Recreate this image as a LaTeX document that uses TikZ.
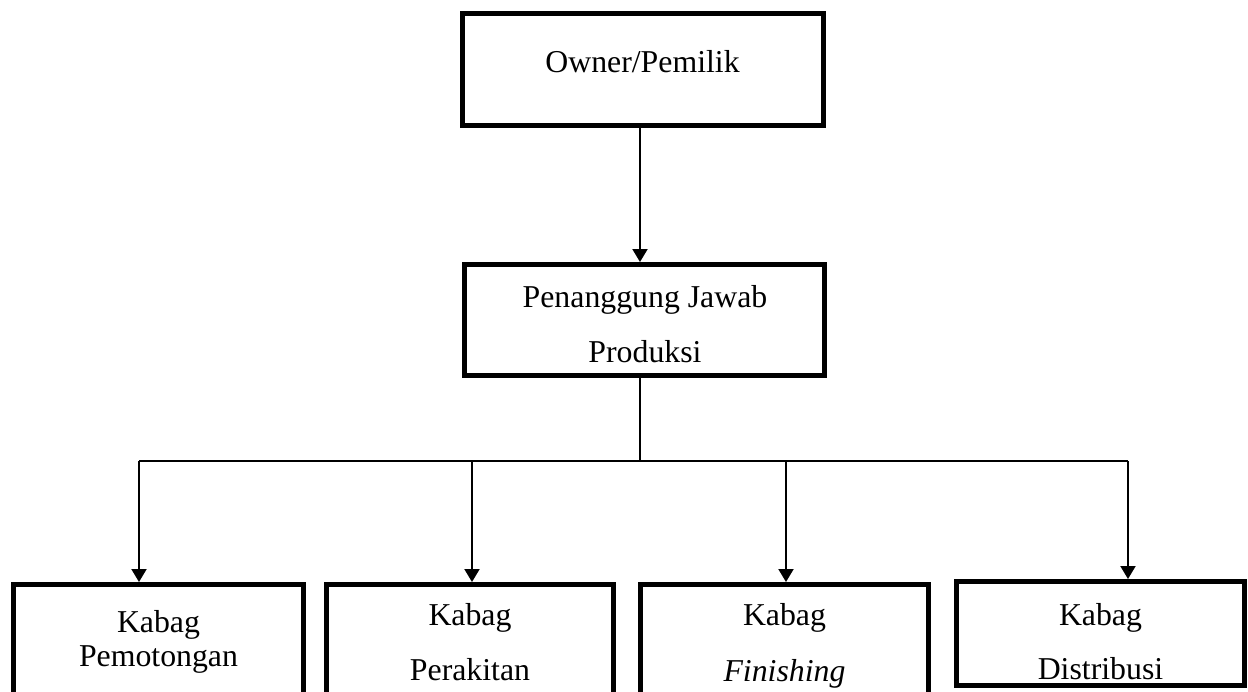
\documentclass[tikz,border=0pt]{standalone}
\usepackage{fontspec}
\setmainfont{Liberation Serif}
\usetikzlibrary{arrows.meta}
\begin{document}
\begin{tikzpicture}[x=1pt,y=-1pt,
  box/.style={draw, line width=5pt, rectangle, inner sep=0pt, outer sep=2.5pt},
  lbl/.style={font=\fontsize{31.8}{38}\selectfont, inner sep=0pt, anchor=base},
  conn/.style={line width=2pt},
  arr/.style={conn, -{Triangle[length=13pt,width=15pt]}}]
\useasboundingbox (0,0) rectangle (1248,691);
\clip (0,0) rectangle (1248,691);
% boxes
\node[box, minimum width=361pt, minimum height=112pt] (owner) at (643,69.5) {};
\node[box, minimum width=360pt, minimum height=111pt] (pj) at (644.5,320) {};
\node[box, minimum width=290pt, minimum height=140pt] (b1) at (158.5,654.5) {};
\node[box, minimum width=287pt, minimum height=140pt] (b2) at (470,654.5) {};
\node[box, minimum width=288pt, minimum height=140pt] (b3) at (784.5,654.5) {};
\node[box, minimum width=288pt, minimum height=104pt] (b4) at (1100.5,633.5) {};
% texts
\node[lbl] (ownert) at (642.5,72) {Owner/Pemilik};
\node[lbl] (pjt1) at (645,307) {Penanggung Jawab};
\node[lbl] (pjt2) at (645,362) {Produksi};
\node[lbl] (b1t1) at (158.5,632) {Kabag};
\node[lbl] (b1t2) at (158.5,666) {Pemotongan};
\node[lbl] (b2t1) at (470,625) {Kabag};
\node[lbl] (b2t2) at (470,680) {Perakitan};
\node[lbl] (b3t1) at (784.5,625) {Kabag};
\node[lbl] (b3t2) at (784.5,681) {\itshape Finishing};
\node[lbl] (b4t1) at (1100.5,625) {Kabag};
\node[lbl] (b4t2) at (1100.5,679) {Distribusi};
% junctions
\coordinate (j0) at (640,461);
\coordinate (j1) at (139,461);
\coordinate (j2) at (472,461);
\coordinate (j3) at (786,461);
\coordinate (j4) at (1128,461);
% connectors
\draw[arr] (owner.south -| j0) -- (pj.north -| j0);
\draw[conn] (pj.south -| j0) -- (j0);
\draw[conn] (j1) -- (j4);
\draw[arr] (j1) -- (j1 |- b1.north);
\draw[arr] (j2) -- (j2 |- b2.north);
\draw[arr] (j3) -- (j3 |- b3.north);
\draw[arr] (j4) -- (j4 |- b4.north);
\end{tikzpicture}
\end{document}
